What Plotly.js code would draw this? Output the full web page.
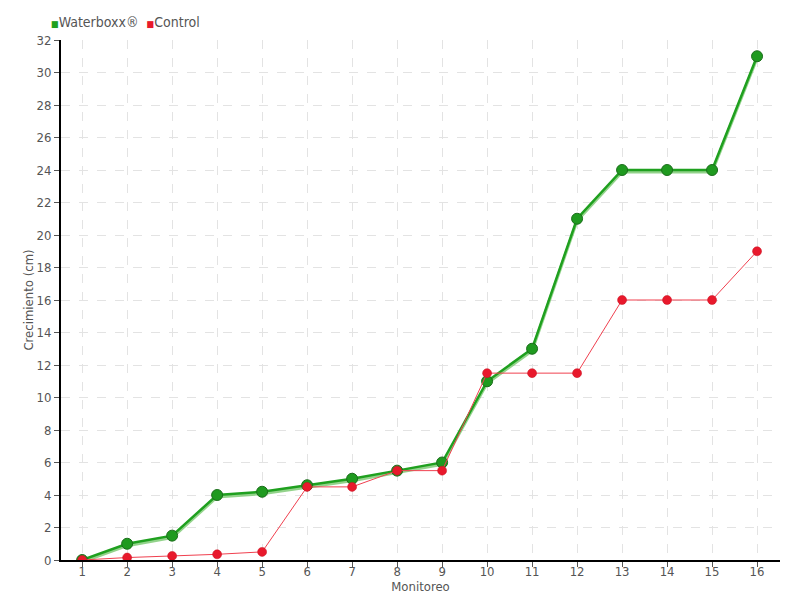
<!DOCTYPE html>
<html><head><meta charset="utf-8">
<script src="https://cdn.plot.ly/plotly-3.0.1.min.js"></script>
<style>body{margin:0;}#chart{width:800px;height:600px;}</style>
</head><body><div id="chart"></div>
<script>
const monitoreo = [1,2,3,4,5,6,7,8,9,10,11,12,13,14,15,16];
const waterboxx = [0,1,1.5,4,4.2,4.6,5,5.5,6,11,13,21,24,24,24,31];
const control = [0,0.15,0.25,0.35,0.5,4.5,4.5,5.5,5.5,11.5,11.5,11.5,16,16,16,19];
const yTicks = [0,2,4,6,8,10,12,14,16,18,20,22,24,26,28,30,32];
const seriesNames = ['Waterboxx®','Control'];

const font = "'DejaVu Sans Condensed', 'Liberation Sans Narrow', sans-serif";
const traces = [
 {x: monitoreo, y: waterboxx.map(v=>v-0.12), type:'scatter', mode:'lines', showlegend:false, hoverinfo:'skip',
  line:{color:'rgba(120,200,110,0.8)', width:3}},
 {x: monitoreo, y: waterboxx, type:'scatter', mode:'lines+markers', name:seriesNames[0], showlegend:false,
  line:{color:'#1fa01f', width:2.5}, marker:{color:'#1f9a1f', size:11, line:{color:'#1c6e1c', width:1}}},
 {x: monitoreo, y: control, type:'scatter', mode:'lines+markers', name:seriesNames[1], showlegend:false,
  line:{color:'#f0404f', width:1}, marker:{color:'#e8192c', size:9, line:{color:'#c81020', width:0.5}}}
];

const layout = {
 width:800, height:600,
 margin:{l:61, r:20, t:40, b:40, autoexpand:false},
 paper_bgcolor:'#fff', plot_bgcolor:'#fff',
 font:{family:font, size:13, color:'#555'},
 showlegend:false,
 annotations:[{xref:'paper', yref:'paper', x:-0.017, y:1, yshift:18, xanchor:'left', yanchor:'middle', showarrow:false,
   text:"<span style='color:#1fa01f;font-size:9px'>■</span>"+seriesNames[0]+"  <span style='color:#e8192c;font-size:9px'>■</span>"+seriesNames[1],
   font:{size:14, color:'#555', family:font}}],
 xaxis:{range:[0.53,16.51], tickvals:monitoreo, ticktext:monitoreo.map(String), showline:true, linecolor:'#000', linewidth:2,
   ticks:'outside', ticklen:5, tickcolor:'#555', showgrid:true, gridcolor:'#e3e3e3', griddash:'dash', zeroline:false,
   ticklabelstandoff:-7,
   title:{text:'Monitoreo', font:{size:13, color:'#555'}, standoff:0}, tickfont:{size:13, color:'#555'}},
 yaxis:{range:[0,32], tickvals:yTicks, showline:true, linecolor:'#000', linewidth:2,
   ticks:'outside', ticklen:5, tickcolor:'#555', showgrid:true, gridcolor:'#e3e3e3', griddash:'dash', zeroline:false,
   title:{text:'Crecimiento (cm)', font:{size:13, color:'#555'}, standoff:0}, tickfont:{size:13, color:'#555'}}
};
Plotly.newPlot('chart', traces, layout, {displayModeBar:false});
</script></body></html>
